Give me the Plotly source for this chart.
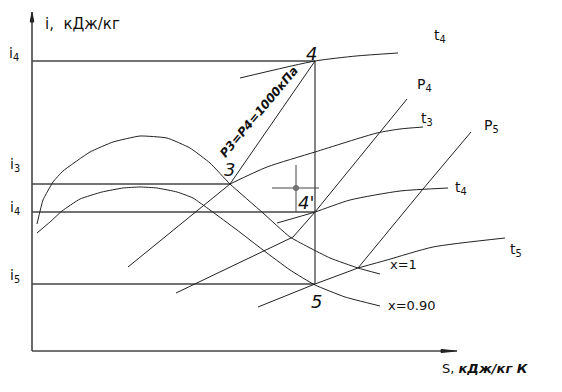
import plotly.graph_objects as go

# Coordinates: S (horizontal) and i (vertical), in drawing units
# key state enthalpies
i4, i3, i4p, i5 = 331, 208, 180, 108
S3, S4 = 230, 315

# saturation lines
x1_S = [37, 43, 53, 63, 90, 113, 140, 167, 190, 210, 230, 263, 290, 330, 358, 380]
x1_i = [168, 192, 210, 221, 240, 250, 256, 254, 244, 229, 208, 179, 155, 134, 124, 118]
x09_S = [37, 50, 62, 80, 102, 123, 140, 157, 177, 193, 210, 237, 263, 290, 315, 345, 380]
x09_i = [159, 170, 181, 193, 200, 204, 205, 204, 200, 194, 182, 162, 142, 122, 107, 95, 86]

# isobars
p3_S = [128, 230, 315]
p3_i = [125, 208, 331]
p4_S = [176, 293, 315, 407]
p4_i = [99, 155, 180, 293]
p5_S = [258, 315, 358, 423, 471]
p5_i = [85, 108, 124, 203, 260]

# isotherms
t4_S = [240, 315, 356, 398]
t4_i = [314, 331, 336, 339]
t3_S = [230, 267, 315, 377, 400, 423]
t3_i = [208, 225, 240, 259, 263, 265]
t4p_S = [277, 315, 350, 400, 448]
t4p_i = [169, 180, 192, 201, 204]
t5_S = [358, 387, 433, 505]
t5_i = [124, 132, 145, 154]

# axes
S0, I0 = 32, 41
S_end, I_end = 457, 380

fig = go.Figure()

def line(xs, ys, color="#222", width=1, smooth=0.6):
    fig.add_trace(go.Scatter(x=xs, y=ys, mode="lines",
                             line=dict(color=color, width=width, shape="spline", smoothing=smooth),
                             hoverinfo="skip", showlegend=False))

def straight(xs, ys, color="#444", width=1.3):
    fig.add_trace(go.Scatter(x=xs, y=ys, mode="lines",
                             line=dict(color=color, width=width),
                             hoverinfo="skip", showlegend=False))

# axes
straight([S0, S0], [I0, I_end - 4], "#444", 1.6)
straight([S0, S_end - 6], [I0, I0], "#444", 1.6)
fig.add_trace(go.Scatter(x=[S0 - 1.8, S0, S0 + 1.8, S0 - 1.8], y=[I_end - 10, I_end, I_end - 10, I_end - 10],
                         mode="lines", fill="toself", fillcolor="#222", line=dict(color="#222", width=1),
                         hoverinfo="skip", showlegend=False))
fig.add_trace(go.Scatter(x=[S_end - 16, S_end, S_end - 16, S_end - 16], y=[I0 + 1.5, I0, I0 - 1.5, I0 + 1.5],
                         mode="lines", fill="toself", fillcolor="#222", line=dict(color="#222", width=1),
                         hoverinfo="skip", showlegend=False))

# enthalpy levels
straight([S0, S4], [i4, i4])
straight([S0, S3], [i3, i3])
straight([S0, S4], [i4p, i4p])
straight([S0, S4], [i5, i5])
straight([S4, S4], [i4, i5])

# crosshair mark near 4'
straight([296, 296], [227, i4p], "#444", 1)
straight([272, 319], [204, 204], "#444", 1)
fig.add_trace(go.Scatter(x=[294, 298, 298, 294, 294], y=[202, 202, 206, 206, 202], mode="lines",
                         line=dict(color="#444", width=1), hoverinfo="skip", showlegend=False))

# curves
line(x1_S, x1_i, smooth=0.4)
line(x09_S, x09_i, smooth=0.4)
straight(p3_S, p3_i, "#222", 1)
straight(p4_S, p4_i, "#222", 1)
straight(p5_S, p5_i, "#222", 1)
line(t4_S, t4_i)
line(t3_S, t3_i)
line(t4p_S, t4p_i)
line(t5_S, t5_i)

FONT = "DejaVu Sans"

def txt(x, y, s, size=13, xanchor="center", angle=0, color="#111"):
    fig.add_annotation(x=x, y=y, text=s, showarrow=False, xanchor=xanchor, yanchor="middle",
                       textangle=angle, font=dict(family=FONT, size=size, color=color))

txt(43, 368, "i,  кДж/кг", 15, "left")
txt(14, 338, "i<sub>4</sub>", 14)
txt(15, 227, "i<sub>3</sub>", 14)
txt(15, 184, "i<sub>4</sub>", 14)
txt(15, 116, "i<sub>5</sub>", 14)

txt(311, 339, "<i>4</i>", 18)
txt(229, 223, "<i>3</i>", 18)
txt(306, 190, "<i>4'</i>", 18)
txt(316, 91, "<i>5</i>", 18)
txt(259, 280, "<b><i>P3=P4=1000кПа</i></b>", 12, angle=-50)

txt(440, 356, "t<sub>4</sub>", 14)
txt(424, 307, "P<sub>4</sub>", 14)
txt(427, 273, "t<sub>3</sub>", 14)
txt(491, 266, "P<sub>5</sub>", 14)
txt(461, 204, "t<sub>4</sub>", 14)
txt(516, 142, "t<sub>5</sub>", 14)
txt(388, 128, "x=1", 13, "left")
txt(386, 87, "x=0.90", 13, "left")
txt(440, 24, "S, <b><i>кДж/кг К</i></b>", 13, "left")

fig.update_layout(
    width=562, height=392, margin=dict(l=0, r=0, t=0, b=0),
    paper_bgcolor="white", plot_bgcolor="white",
    xaxis=dict(range=[0, 562], visible=False, fixedrange=True),
    yaxis=dict(range=[0, 392], visible=False, fixedrange=True),
)
fig.write_html("out.html")
